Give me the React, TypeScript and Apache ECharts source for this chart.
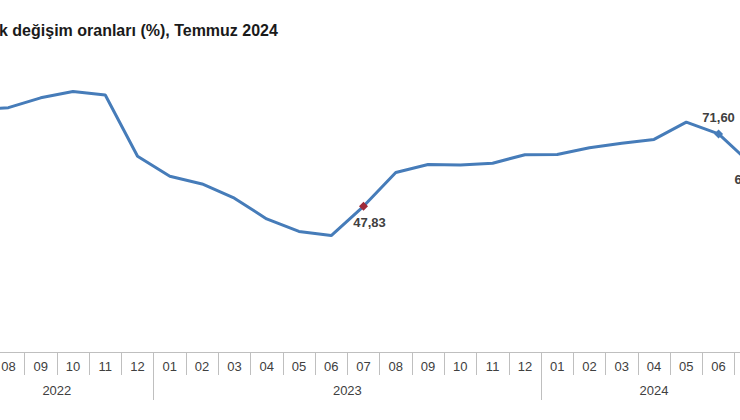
import React, { useEffect, useRef } from "react";
import * as echarts from "echarts";

const months = ["07","08","09","10","11","12","01","02","03","04","05","06","07","08","09","10","11","12","01","02","03","04","05","06","07"];
const years = ["2022","2022","2022","2022","2022","2022","2023","2023","2023","2023","2023","2023","2023","2023","2023","2023","2023","2023","2024","2024","2024","2024","2024","2024","2024"];
const cpi = [79.60,80.21,83.45,85.51,84.39,64.27,57.68,55.18,50.51,43.68,39.59,38.21,47.83,58.94,61.53,61.36,61.98,64.77,64.86,67.07,68.50,69.80,75.45,71.60,61.78];
const yearLabels: { pos: number; text: string }[] = [
  { pos: 3, text: "2022" },
  { pos: 12, text: "2023" },
  { pos: 21.5, text: "2024" },
];
const titleText = "k değişim oranları (%), Temmuz 2024";

const LINE = "#467cb9";
const MARK_RED = "#9e2a3a";
const AXIS = "#bfbfbf";
const TXT = "#404040";

export default function App() {
  const ref = useRef<HTMLDivElement>(null);
  useEffect(() => {
    document.body.style.margin = "0";
    document.body.style.overflow = "hidden";
    const chart = echarts.init(ref.current!, null, { renderer: "svg" });
    const fmt = (v: number) => v.toFixed(2).replace(".", ",");
    const data = cpi.map((v, i) => {
      if (i === 12) {
        return {
          value: v, symbol: "diamond", symbolSize: 9,
          itemStyle: { color: MARK_RED },
          label: { show: true, position: "bottom", offset: [6, 0] },
        };
      }
      if (i === 23) {
        return {
          value: v, symbol: "diamond", symbolSize: 9,
          itemStyle: { color: LINE },
          label: { show: true, position: "top" },
        };
      }
      if (i === 24) {
        return {
          value: v, symbol: "diamond", symbolSize: 9,
          itemStyle: { color: LINE },
          label: { show: true, position: "bottom" },
        };
      }
      return { value: v, symbol: "none" };
    });
    chart.setOption({
      animation: false,
      backgroundColor: "#ffffff",
      title: {
        text: titleText,
        left: 37,
        top: 17,
        textStyle: { fontFamily: "Liberation Sans, Arial, sans-serif", fontSize: 16, fontWeight: "bold", color: "#1a1a1a" },
      },
      grid: { left: 0, right: 0, top: 47.4, bottom: 68, containLabel: false },
      xAxis: [
        {
          type: "category",
          data: months,
          boundaryGap: true,
          position: "bottom",
          axisLine: { show: true, lineStyle: { color: AXIS, width: 1 } },
          axisTick: { show: true, interval: 0, length: 23, lineStyle: { color: AXIS, width: 1 } },
          axisLabel: { interval: 0, margin: 8, color: TXT, fontSize: 13, fontFamily: "Liberation Sans, Arial, sans-serif" },
        },
        {
          type: "category",
          data: years,
          boundaryGap: true,
          position: "bottom",
          axisLine: { show: false },
          axisTick: {
            show: true, length: 48,
            interval: (i: number) => i === 0 || i === 6 || i === 18,
            lineStyle: { color: AXIS, width: 1 },
          },
          axisLabel: { show: false },
        },
        {
          type: "value",
          min: 0,
          max: 25,
          interval: 0.5,
          position: "bottom",
          axisLine: { show: false },
          axisTick: { show: false },
          splitLine: { show: false },
          axisLabel: {
            margin: 32,
            color: TXT,
            fontSize: 13,
            fontFamily: "Liberation Sans, Arial, sans-serif",
            showMinLabel: true,
            showMaxLabel: true,
            formatter: (v: number) => {
              const f = yearLabels.find((y) => Math.abs(y.pos - v) < 1e-6);
              return f ? f.text : "";
            },
          },
        },
      ],
      yAxis: { type: "value", min: 0, max: 100, show: false },
      series: [
        {
          type: "line",
          xAxisIndex: 0,
          data,
          symbol: "none",
          lineStyle: { color: LINE, width: 3 },
          itemStyle: { color: LINE },
          label: {
            formatter: (p: any) => fmt(p.value),
            color: TXT,
            fontSize: 13,
            fontWeight: "bold",
            fontFamily: "Liberation Sans, Arial, sans-serif",
          },
        },
      ],
    });
    return () => chart.dispose();
  }, []);
  return (
    <div style={{ position: "fixed", left: 0, top: 0, width: 740, height: 420, overflow: "hidden", background: "#fff" }}>
      <div ref={ref} style={{ position: "absolute", left: -43, top: 0, width: 813, height: 420 }} />
    </div>
  );
}
